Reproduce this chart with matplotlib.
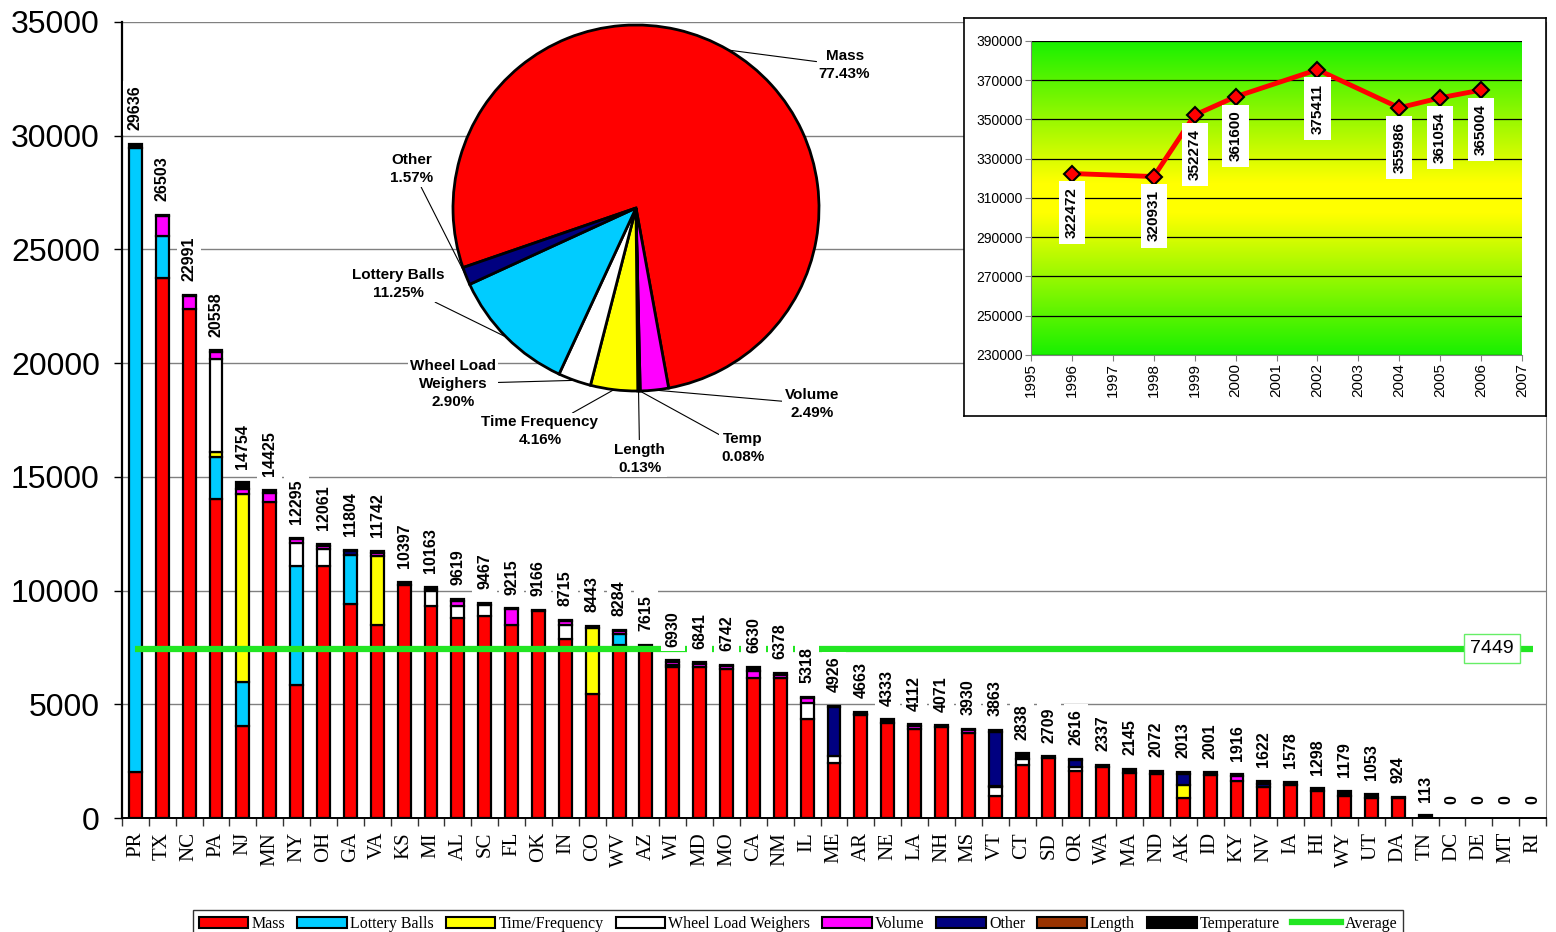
import matplotlib

matplotlib.use("Agg")
import matplotlib.pyplot as plt
import numpy as np
from matplotlib.colors import LinearSegmentedColormap
from matplotlib.lines import Line2D
from matplotlib.patches import Patch

W, H = 1556, 932

STATES = ["PR", "TX", "NC", "PA", "NJ", "MN", "NY", "OH", "GA", "VA", "KS", "MI",
          "AL", "SC", "FL", "OK", "IN", "CO", "WV", "AZ", "WI", "MD", "MO", "CA",
          "NM", "IL", "ME", "AR", "NE", "LA", "NH", "MS", "VT", "CT", "SD", "OR",
          "WA", "MA", "ND", "AK", "ID", "KY", "NV", "IA", "HI", "WY", "UT", "DA",
          "TN", "DC", "DE", "MT", "RI"]
MASS = [2010, 23760, 22374, 14034, 4055, 13900, 5840, 11092, 9412, 8466, 10250, 9307,
        8782, 8887, 8508, 9097, 7878, 5462, 7626, 7400, 6618, 6618, 6534, 6155,
        6155, 4370, 2405, 4531, 4194, 3900, 3988, 3754, 968, 2331, 2625, 2067,
        2229, 1994, 1921, 865, 1891, 1642, 1349, 1452, 1202, 982, 894, 880,
        0, 0, 0, 0, 0]
LOTTERY = {"PR": 27466, "TX": 1830, "PA": 1827, "NJ": 1932, "NY": 5252, "GA": 2164,
           "WV": 462}
TIME_FREQ = {"PA": 252, "NJ": 8257, "VA": 3047, "CO": 2899, "AK": 587}
WHEEL = {"PA": 4055, "NY": 988, "OH": 736, "MI": 672, "AL": 525, "SC": 483, "IN": 630,
         "WI": 120, "IL": 693, "ME": 330, "VT": 410, "CT": 249, "OR": 190}
VOLUME = {"TX": 880, "NC": 590, "PA": 315, "NJ": 210, "MN": 400, "NY": 170, "OH": 150,
          "VA": 150, "MI": 100, "AL": 250, "FL": 692, "IN": 150, "WV": 120, "WI": 120,
          "MD": 150, "MO": 130, "CA": 315, "NM": 150, "IL": 200, "AR": 60, "LA": 147,
          "MS": 100, "VT": 40, "KY": 220}
OTHER = {"GA": 150, "ME": 2140, "VT": 2380, "OR": 300, "AK": 470, "NV": 150}
LENGTH = {}
TEMPERATURE = [160, 33, 27, 75, 300, 125, 45, 83, 78, 79, 147, 84,
               62, 97, 15, 69, 57, 82, 76, 215, 72, 73, 78, 160,
               73, 55, 51, 72, 139, 65, 83, 76, 65, 258, 84, 59,
               108, 151, 151, 91, 110, 54, 123, 126, 96, 197, 159, 44,
               113, 0, 0, 0, 0]
AVERAGE = 7449

SERIES_NAMES = ["Mass", "Lottery Balls", "Time/Frequency", "Wheel Load Weighers",
                "Volume", "Other", "Length", "Temperature"]
SERIES_COLORS = ["#FF0000", "#00CCFF", "#FFFF00", "#FFFFFF", "#FF00FF", "#000080",
                 "#993300", "#000000"]
AVG_COLOR = "#22E622"

PIE_LABELS = ["Mass", "Volume", "Temp", "Length", "Time Frequency",
              "Wheel Load\nWeighers", "Lottery Balls", "Other"]
PIE_PCT = [77.43, 2.49, 0.08, 0.13, 4.16, 2.90, 11.25, 1.57]
PIE_COLORS = ["#FF0000", "#FF00FF", "#000000", "#993300", "#FFFF00", "#FFFFFF",
              "#00CCFF", "#000080"]
# label centres, in pie radii from the centre
PIE_TEXT_POS = [(1.14, 0.78), (0.96, -1.07), (0.585, -1.31), (0.02, -1.37),
                (-0.525, -1.22), (-1.0, -0.96), (-1.30, -0.415), (-1.224, 0.213)]

YEARS = [1996, 1998, 1999, 2000, 2002, 2004, 2005, 2006]
YEAR_TOTALS = [322472, 320931, 352274, 361600, 375411, 355986, 361054, 365004]

SANS = "Liberation Sans"
SERIF = "Liberation Serif"


def box(x0, y0, x1, y1):
    return [x0 / W, 1 - y1 / H, (x1 - x0) / W, (y1 - y0) / H]


def main() -> None:
    fig = plt.figure(figsize=(W / 100, H / 100), dpi=100)
    fig.patch.set_facecolor("white")

    # ---- main stacked bars
    ax = fig.add_axes(box(122, 22, 1546, 818), zorder=1)
    x = np.arange(len(STATES))
    stacks = [
        MASS,
        [LOTTERY.get(s, 0) for s in STATES],
        [TIME_FREQ.get(s, 0) for s in STATES],
        [WHEEL.get(s, 0) for s in STATES],
        [VOLUME.get(s, 0) for s in STATES],
        [OTHER.get(s, 0) for s in STATES],
        [LENGTH.get(s, 0) for s in STATES],
        TEMPERATURE,
    ]
    bottom = np.zeros(len(STATES))
    for color, vals in zip(SERIES_COLORS, stacks):
        vals = np.asarray(vals, dtype=float)
        ax.bar(x, vals, 0.48, bottom=bottom, color=color, edgecolor="black",
               linewidth=[1.6 if v > 0 else 0 for v in vals], zorder=2)
        bottom = bottom + vals
    ax.hlines(AVERAGE, 0, len(STATES) - 1, color=AVG_COLOR, linewidth=4.5, zorder=3)

    for xi, total in zip(x, bottom):
        ax.annotate(f"{total:.0f}", (xi, total), xytext=(0, 10),
                    textcoords="offset points", rotation=90, ha="center",
                    va="bottom", fontsize=11.5, fontweight="bold", family=SANS,
                    bbox={"boxstyle": "square,pad=0.3", "fc": "white", "ec": "none"},
                    zorder=4)
    ax.annotate(f"{AVERAGE}", (0.962, AVERAGE),
                xycoords=ax.get_yaxis_transform(), ha="center", va="center",
                fontsize=14, family=SANS, zorder=5,
                bbox={"boxstyle": "square,pad=0.3", "fc": "white", "ec": "#66EE66",
                      "lw": 1})

    ax.set_xlim(-0.5, len(STATES) - 0.5)
    ax.set_ylim(0, 35000)
    ax.set_yticks(np.arange(0, 35001, 5000))
    ax.set_xticks(x)
    ax.set_xticklabels(STATES, rotation=90, family=SERIF, fontsize=15)
    ax.set_xticks(np.arange(-0.5, len(STATES), 1), minor=True)
    ax.tick_params(axis="x", which="major", length=0, pad=10)
    ax.tick_params(axis="x", which="minor", length=6, width=1, color="#333333")
    ax.tick_params(axis="y", length=6, width=1, pad=10, labelsize=23)
    for lab in ax.get_yticklabels():
        lab.set_family(SANS)
    ax.grid(axis="y", color="#808080", linewidth=1)
    ax.set_axisbelow(True)
    ax.spines["top"].set_visible(False)
    ax.spines["right"].set_color("#808080")
    ax.spines["left"].set_linewidth(1.6)
    ax.spines["bottom"].set_linewidth(1.4)
    ax.patch.set_alpha(0)

    # ---- pie overlay
    axp = fig.add_axes(box(453, 25, 819, 391), zorder=2)
    wedges, _ = axp.pie(PIE_PCT, colors=PIE_COLORS, startangle=199,
                        counterclock=False, radius=1,
                        wedgeprops={"edgecolor": "black", "linewidth": 2})
    axp.set_xlim(-1, 1)
    axp.set_ylim(-1, 1)
    axp.patch.set_alpha(0)
    for w, name, pct, pos in zip(wedges, PIE_LABELS, PIE_PCT, PIE_TEXT_POS):
        mid = np.deg2rad((w.theta1 + w.theta2) / 2)
        axp.annotate(f"{name}\n{pct:.2f}%", (np.cos(mid), np.sin(mid)),
                     xytext=pos, ha="center", va="center", fontsize=11,
                     fontweight="bold", family=SANS, linespacing=1.35,
                     bbox={"boxstyle": "square,pad=0.15", "fc": "white",
                           "ec": "none"},
                     arrowprops={"arrowstyle": "-", "color": "black", "lw": 0.8,
                                 "shrinkA": 0, "shrinkB": 0})

    # ---- inset with yearly totals
    frame = fig.add_axes(box(964, 18, 1546, 416), zorder=3)
    frame.set_xticks([])
    frame.set_yticks([])
    for sp in frame.spines.values():
        sp.set_linewidth(1.2)

    axi = fig.add_axes(box(1031, 41, 1522, 355), zorder=4)
    cmap = LinearSegmentedColormap.from_list(
        "gy", [(0, "#19F000"), (0.45, "#FFFF00"), (0.55, "#FFFF00"), (1, "#19F000")])
    axi.imshow(np.linspace(0, 1, 256).reshape(-1, 1), cmap=cmap, aspect="auto",
               extent=(1995, 2007, 230000, 390000), zorder=0)
    axi.plot(YEARS, YEAR_TOTALS, color="#FF0000", linewidth=3.5, marker="D",
             markersize=8, markerfacecolor="#FF0000", markeredgecolor="black",
             markeredgewidth=1.5, zorder=3)
    for yr, val in zip(YEARS, YEAR_TOTALS):
        axi.annotate(f"{val}", (yr, val), xytext=(0, -10), textcoords="offset points",
                     rotation=90, ha="center", va="top", fontsize=11,
                     fontweight="bold", family=SANS, zorder=4,
                     bbox={"boxstyle": "square,pad=0.4", "fc": "white", "ec": "none"})
    axi.set_xlim(1995, 2007)
    axi.set_ylim(230000, 390000)
    axi.set_xticks(np.arange(1995, 2008))
    axi.set_yticks(np.arange(230000, 390001, 20000))
    axi.tick_params(axis="x", labelrotation=90, labelsize=11, length=4,
                    color="#808080", pad=2)
    axi.tick_params(axis="y", labelsize=10, length=4, color="#808080", pad=2)
    for lab in axi.get_xticklabels() + axi.get_yticklabels():
        lab.set_family(SANS)
    axi.yaxis.grid(True, color="black", linewidth=0.9)
    axi.set_axisbelow(True)
    axi.spines["top"].set_visible(False)
    axi.spines["right"].set_visible(False)
    axi.spines["left"].set_color("#808080")
    axi.spines["bottom"].set_color("#808080")

    # ---- legend
    handles = [Patch(facecolor=c, edgecolor="black", linewidth=1.5)
               for c in SERIES_COLORS]
    handles.append(Line2D([], [], color=AVG_COLOR, linewidth=4.5))
    leg = fig.legend(handles, SERIES_NAMES + ["Average"], loc="lower center",
                     bbox_to_anchor=(798 / W, -0.006), ncol=9, frameon=True,
                     fancybox=False, edgecolor="black",
                     prop={"family": SERIF, "size": 11.5}, handlelength=3.1,
                     handleheight=0.7, handletextpad=0.2, columnspacing=0.75,
                     borderpad=0.35, borderaxespad=0)
    leg.get_frame().set_linewidth(1)

    fig.savefig("out.png", dpi=100, facecolor="white")


if __name__ == "__main__":
    main()
